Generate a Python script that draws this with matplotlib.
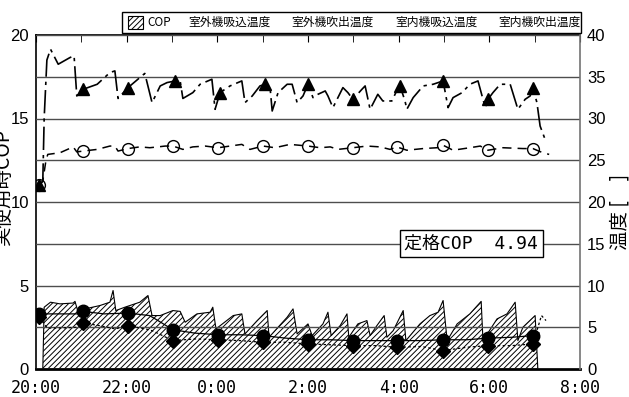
import numpy as np
import matplotlib
matplotlib.use('Agg')
import matplotlib.pyplot as plt
from matplotlib.patches import Rectangle

plt.rcParams['font.family'] = ['Liberation Sans', 'Noto Sans CJK JP', 'DejaVu Sans']
plt.rcParams['hatch.linewidth'] = 0.7

# hours after 20:00
xtick_pos = [0, 2, 4, 6, 8, 10, 12]
xtick_labels = ['20:00', '22:00', '0:00', '2:00', '4:00', '6:00', '8:00']
legend_labels = ['COP', '室外機吸込温度', '室外機吹出温度', '室内機吸込温度', '室内機吹出温度']
rated_cop = 4.94

# COP (left axis)
cop_t = [0.15, 0.18, 0.32, 0.53, 0.82, 0.86, 0.93, 1.08, 1.41, 1.63, 1.70, 1.76, 1.96, 2.29, 2.47, 2.56,
         2.74, 3.02, 3.18, 3.29, 3.55, 3.84, 3.90, 3.97, 4.35, 4.54, 4.61, 4.88, 5.10, 5.14, 5.54, 5.67,
         5.76, 6.00, 6.09, 6.33, 6.44, 6.51, 6.71, 6.86, 6.90, 7.10, 7.30, 7.37, 7.52, 7.68, 7.74, 7.88,
         8.10, 8.16, 8.47, 8.69, 8.87, 8.98, 9.07, 9.29, 9.57, 9.82, 9.86, 10.17, 10.39, 10.57, 10.63,
         10.74, 11.01, 11.07]
cop = [0, 3.7, 4.0, 3.9, 3.95, 4.05, 3.4, 3.6, 3.8, 4.0, 4.7, 3.5, 3.7, 4.0, 4.4, 3.2,
       3.2, 3.5, 3.45, 2.8, 3.3, 3.4, 3.7, 2.4, 3.2, 3.3, 2.1, 2.9, 3.5, 1.9, 3.1, 3.6,
       2.1, 2.7, 2.0, 2.7, 3.4, 2.0, 2.6, 3.3, 1.9, 2.7, 2.9, 2.0, 2.6, 3.2, 1.9, 2.3,
       3.5, 1.7, 2.7, 3.2, 3.4, 4.1, 1.7, 2.7, 3.3, 4.05, 1.7, 3.0, 3.3, 4.0, 1.7,
       2.5, 3.2, 0]

# 室外機吸込温度 (outdoor intake)
oi_t = [0.07, 0.5, 0.93, 1.04, 1.5, 2.03, 2.5, 2.6, 3.02, 3.5, 4.02, 4.5, 5.01, 5.5, 6.00, 6.5,
        6.99, 7.5, 7.96, 8.5, 8.98, 9.5, 9.97, 10.5, 10.96, 11.1]
oi_v = [6.6, 6.6, 6.6, 6.9, 6.6, 6.7, 6.4, 6.1, 4.7, 4.3, 4.1, 4.1, 4.0, 3.7, 3.5, 3.5,
        3.4, 3.4, 3.4, 3.4, 3.5, 3.5, 3.7, 3.8, 4.0, 4.3]
oi_mk = [0, 3, 5, 8, 10, 12, 14, 16, 18, 20, 22, 24]

# 室外機吹出温度 (outdoor outlet)
oo_t = [0.07, 0.25, 0.5, 0.9, 1.04, 1.4, 1.75, 2.03, 2.5, 2.6, 3.02, 3.5, 4.02, 4.5, 5.01, 5.5,
        6.00, 6.5, 6.99, 7.5, 7.96, 8.5, 8.98, 9.5, 9.97, 10.5, 10.96, 11.05, 11.15, 11.25]
oo_v = [6.2, 4.9, 4.9, 5.0, 5.5, 5.2, 4.8, 5.2, 4.7, 4.5, 3.4, 3.6, 3.5, 3.4, 3.2, 3.2,
        3.0, 2.9, 2.8, 2.8, 2.6, 2.7, 2.2, 2.6, 2.8, 2.8, 3.0, 4.6, 6.4, 5.8]
oo_mk = [0, 4, 7, 10, 12, 14, 16, 18, 20, 22, 24, 26]

# 室内機吸込温度 (indoor intake)
ci_t = [0.07, 0.15, 0.22, 0.26, 0.53, 0.82, 0.90, 1.04, 1.35, 1.63, 1.74, 1.81, 2.03, 2.29, 2.51, 2.69,
        2.85, 3.02, 3.24, 3.46, 3.73, 4.02, 4.28, 4.54, 4.72, 5.01, 5.27, 5.60, 6.00, 6.27, 6.49, 6.66,
        6.99, 7.30, 7.59, 7.81, 7.96, 8.18, 8.54, 8.85, 8.98, 9.20, 9.57, 9.80, 9.97, 10.30, 10.74,
        10.96, 11.18, 11.32]
ci_v = [22.0, 22.5, 25.0, 25.7, 25.9, 26.6, 26.0, 26.1, 26.3, 26.7, 26.7, 26.1, 26.4, 26.6, 26.5, 26.6,
        26.7, 26.7, 26.3, 26.6, 26.7, 26.5, 26.7, 26.9, 26.3, 26.7, 26.5, 26.9, 26.7, 26.5, 26.6, 26.3,
        26.5, 26.7, 26.6, 26.3, 26.6, 26.2, 26.4, 26.5, 26.8, 26.2, 26.5, 26.7, 26.2, 26.5, 26.4,
        26.4, 25.9, 25.7]
ci_mk = [0, 7, 12, 17, 21, 25, 28, 32, 36, 40, 44, 47]

# 室内機吹出温度 (indoor outlet)
ti_t = [0.07, 0.15, 0.18, 0.24, 0.32, 0.49, 0.75, 0.84, 0.90, 1.04, 1.35, 1.63, 1.74, 1.81, 2.03, 2.40,
        2.56, 2.74, 2.89, 3.07, 3.18, 3.24, 3.46, 3.62, 3.88, 3.95, 4.06, 4.28, 4.54, 4.61, 4.77, 4.94,
        5.05, 5.16, 5.21, 5.34, 5.54, 5.65, 5.76, 5.89, 6.00, 6.11, 6.22, 6.38, 6.44, 6.55, 6.77, 6.88,
        6.99, 7.19, 7.26, 7.37, 7.54, 7.65, 7.85, 7.99, 8.03, 8.14, 8.18, 8.32, 8.54, 8.76, 8.98, 9.09,
        9.20, 9.40, 9.57, 9.75, 9.91, 9.97, 10.08, 10.24, 10.46, 10.63, 10.79, 10.90, 10.96, 11.05,
        11.12, 11.23]
ti_v = [22.0, 22.5, 30.0, 37.0, 38.3, 36.5, 37.3, 37.5, 32.7, 33.5, 34.1, 35.5, 35.7, 32.4, 33.7, 35.4,
        31.9, 33.9, 34.3, 34.5, 34.5, 32.4, 33.1, 34.1, 34.7, 31.1, 33.1, 33.9, 34.5, 31.9, 32.7, 33.9,
        34.1, 33.9, 30.9, 33.1, 34.1, 34.1, 31.9, 32.7, 34.1, 32.5, 32.9, 33.3, 32.7, 31.3, 33.7, 33.1,
        32.3, 33.5, 33.9, 31.1, 32.9, 32.1, 32.1, 33.7, 33.9, 32.1, 31.1, 32.5, 33.9, 34.1, 34.5, 31.3,
        32.5, 33.1, 34.1, 34.5, 31.3, 32.3, 33.1, 34.1, 34.1, 31.1, 32.3, 32.7, 33.7, 31.9,
        29.1, 27.5]
ti_mk = [0, 9, 14, 19, 26, 32, 40, 48, 56, 62, 69, 76]

W, H = 629, 397
def fx(px):
    return px / W
def fy(py):
    return 1 - py / H

fig = plt.figure(figsize=(W / 100, H / 100), dpi=100)
ax = fig.add_axes([fx(36), fy(369), fx(580) - fx(36), fy(35) - fy(369)])
ax2 = ax.twinx()

ax.fill_between(cop_t, cop, 0, facecolor='none', edgecolor='black', hatch='//////', linewidth=0.8)
ax.set_xlim(0, 12)
ax.set_ylim(0, 20)
ax2.set_ylim(0, 40)

ax.set_xticks(xtick_pos)
ax.set_xticklabels(xtick_labels)
ax.set_xticks(range(13), minor=True)
ax.tick_params(axis='x', which='both', direction='in', top=True, bottom=False, length=5,
               labelsize=12, labelfontfamily='DejaVu Sans Mono', pad=7)
ax.set_yticks([0, 5, 10, 15, 20])
ax.tick_params(axis='y', length=0, labelsize=12, pad=5)
ax2.set_yticks(range(0, 41, 5))
ax2.tick_params(axis='y', length=0, labelsize=12, pad=5)
ax2.grid(axis='y', color='0.3', linewidth=1)

for s in ['left', 'top', 'bottom']:
    ax2.spines[s].set_visible(False)
ax.spines['right'].set_visible(False)
ax.spines['bottom'].set_linewidth(2)
ax.spines['left'].set_linewidth(1.2)
ax.spines['top'].set_linewidth(1.2)
ax2.spines['right'].set_color('0.45')
ax2.spines['right'].set_linewidth(1.2)

ax2.plot(oi_t, oi_v, color='black', linewidth=0.9, marker='o', ms=9, markevery=oi_mk)
ax2.plot(oo_t, oo_v, color='black', linewidth=0.9, linestyle=(0, (2, 2)), marker='D', ms=7,
         markevery=oo_mk)
ax2.plot(ci_t, ci_v, color='black', linewidth=1.1, linestyle=(0, (6, 4)), marker='o', ms=8.5,
         mfc='none', mew=1.0, markevery=ci_mk)
ax2.plot(ti_t, ti_v, color='black', linewidth=1.2, dashes=[14, 3, 2, 3], marker='^', ms=8,
         markevery=ti_mk)

ax2.text(9.6, 15, '定格COP  %.2f' % rated_cop, ha='center', va='center', fontsize=13,
         family=['DejaVu Sans Mono', 'Noto Sans CJK JP'], zorder=6,
         bbox=dict(boxstyle='square,pad=0.25', fc='white', ec='black', lw=1))

fig.text(fx(3), fy(186), '実使用時COP', rotation=90, ha='center', va='center', fontsize=14,
         family=['Noto Sans CJK JP'])
fig.text(fx(620), fy(212), '温度 [　]', rotation=90, ha='center', va='center', fontsize=14,
         family=['Noto Sans CJK JP'])

# legend box on top
fig.patches.append(Rectangle((fx(122), fy(33)), fx(581) - fx(122), fy(12) - fy(33),
                             transform=fig.transFigure, fc='white', ec='black', lw=1))
fig.patches.append(Rectangle((fx(128), fy(29)), fx(143) - fx(128), fy(16) - fy(29),
                             transform=fig.transFigure, fc='white', ec='black', lw=0.8,
                             hatch='//////'))
for xp, lab in zip([147, 188, 291, 395, 498], legend_labels):
    fig.text(fx(xp), fy(22.5), lab, ha='left', va='center', fontsize=8.5,
             family=['Noto Sans CJK JP'])

fig.savefig('out.png', dpi=100)
